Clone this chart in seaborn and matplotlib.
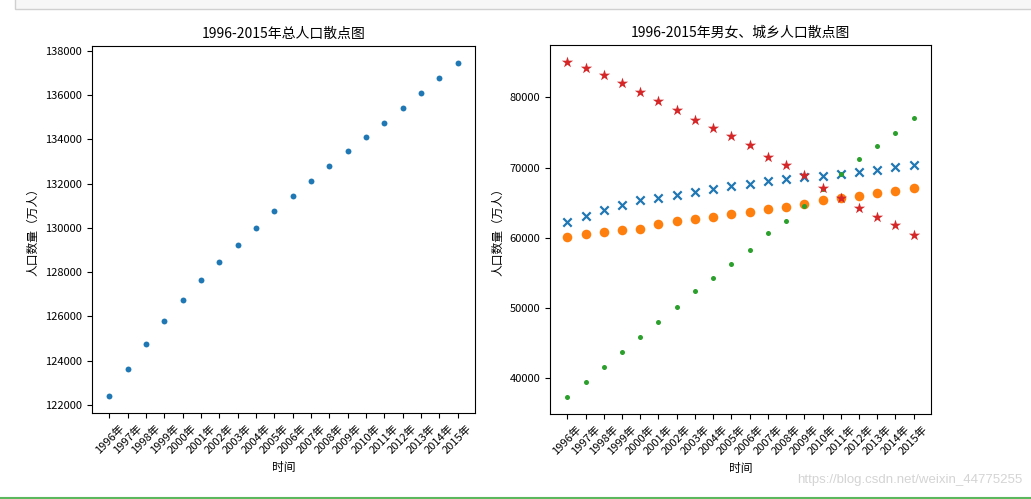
import matplotlib
matplotlib.use("Agg")
import matplotlib.pyplot as plt
import seaborn as sns
import numpy as np
from matplotlib.patches import Rectangle
from matplotlib.lines import Line2D

plt.rcParams['font.family'] = ['Noto Sans CJK SC', 'DejaVu Sans']
plt.rcParams['axes.unicode_minus'] = False

years = ['1996年', '1997年', '1998年', '1999年', '2000年', '2001年', '2002年',
         '2003年', '2004年', '2005年', '2006年', '2007年', '2008年', '2009年',
         '2010年', '2011年', '2012年', '2013年', '2014年', '2015年']
total = [122389, 123626, 124761, 125786, 126743, 127627, 128453, 129227, 129988, 130756,
         131448, 132129, 132802, 133450, 134091, 134735, 135404, 136072, 136782, 137462]
male = [62200, 63131, 63940, 64692, 65437, 65672, 66115, 66556, 66976, 67375,
        67728, 68048, 68357, 68647, 68748, 69068, 69395, 69728, 70079, 70414]
female = [60189, 60495, 60821, 61094, 61306, 61955, 62338, 62671, 63012, 63381,
          63720, 64081, 64445, 64803, 65343, 65667, 66009, 66344, 66703, 67048]
urban = [37304, 39449, 41608, 43748, 45906, 48064, 50212, 52376, 54283, 56212,
         58288, 60633, 62403, 64512, 66978, 69079, 71182, 73111, 74916, 77116]
rural = [85085, 84177, 83153, 82038, 80837, 79563, 78241, 76851, 75705, 74544,
         73160, 71496, 70399, 68938, 67113, 65656, 64222, 62961, 61866, 60346]

fig = plt.figure(figsize=(10.31, 4.99), dpi=100)
ax1 = fig.add_axes([92/1031, 1-413/499, 383/1031, 367/499])
ax2 = fig.add_axes([550/1031, 1-414/499, 381/1031, 369/499])

tick_fs = 8
label_fs = 8.5
title_fs = 10

sns.scatterplot(x=years, y=total, ax=ax1, color='#1f77b4', s=18, linewidth=0)
ax1.set_title('1996-2015年总人口散点图', fontsize=title_fs, pad=6)
ax1.set_xlabel('时间', fontsize=label_fs)
ax1.set_ylabel('人口数量（万人）', fontsize=label_fs)
ax1.set_yticks(np.arange(122000, 138001, 2000))

sns.scatterplot(x=years, y=male, ax=ax2, color='#1f77b4', marker='x', s=36, linewidth=1.6)
sns.scatterplot(x=years, y=female, ax=ax2, color='#ff7f0e', marker='o', s=48, linewidth=0)
sns.scatterplot(x=years, y=urban, ax=ax2, color='#2ca02c', marker='o', s=13, linewidth=0)
sns.scatterplot(x=years, y=rural, ax=ax2, color='#d62728', marker='*', s=72, linewidth=0)
ax2.set_title('1996-2015年男女、城乡人口散点图', fontsize=title_fs, pad=6)
ax2.set_xlabel('时间', fontsize=label_fs)
ax2.set_ylabel('人口数量（万人）', fontsize=label_fs)

for ax in (ax1, ax2):
    ax.tick_params(axis='both', labelsize=tick_fs)
    for lab in ax.get_xticklabels():
        lab.set_rotation(45)
        lab.set_ha('center')

# page chrome of the screenshot
fig.patches.append(Rectangle((15/1031, 1-9/499), 1.1, 0.03, transform=fig.transFigure,
                             facecolor='#f7f7f7', edgecolor='#d0d0d0', linewidth=1))
fig.lines.append(Line2D([0, 1], [1-497.5/499, 1-497.5/499], transform=fig.transFigure,
                        color='#5cb85c', linewidth=1.5))
fig.text(1022/1031, 1-480/499, 'https://blog.csdn.net/weixin_44775255', ha='right', va='center',
         fontsize=9.5, color='#d4d4d4', family=['Liberation Sans', 'DejaVu Sans'])

fig.savefig('out.png', dpi=100)
